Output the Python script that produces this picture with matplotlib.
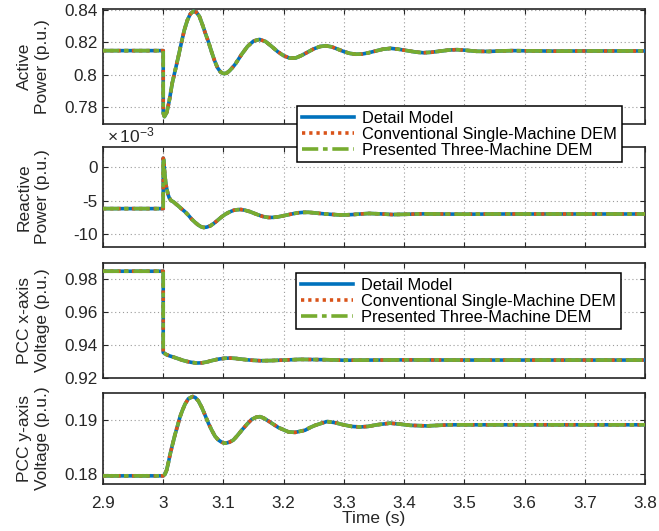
import matplotlib
matplotlib.use("Agg")
import matplotlib.pyplot as plt
from matplotlib.lines import Line2D
from matplotlib.ticker import FuncFormatter

plt.rcParams['font.family'] = ['Liberation Sans', 'DejaVu Sans']
plt.rcParams['mathtext.fontset'] = 'custom'
plt.rcParams['mathtext.rm'] = 'Liberation Sans'
plt.rcParams['mathtext.it'] = 'Liberation Sans:italic'
plt.rcParams['axes.unicode_minus'] = False

# ---- series labels / colours ----
series_names = ['Detail Model', 'Conventional Single-Machine DEM', 'Presented Three-Machine DEM']
series_colors = ['#0072BD', '#D95319', '#77AC30']

# ---- active power (p.u.) ----
t_p = [2.9, 3.0, 3.0, 3.002, 3.006, 3.01, 3.015, 3.02, 3.025, 3.03, 3.035, 3.04, 3.045,
       3.05, 3.055, 3.06, 3.065, 3.07, 3.075, 3.08, 3.085, 3.09, 3.095, 3.1, 3.105, 3.11,
       3.115, 3.12, 3.13, 3.14, 3.15, 3.16, 3.17, 3.18, 3.19, 3.2, 3.21, 3.22, 3.23, 3.24,
       3.25, 3.26, 3.27, 3.28, 3.29, 3.3, 3.31, 3.32, 3.33, 3.34, 3.355, 3.365, 3.378,
       3.39, 3.405, 3.42, 3.432, 3.445, 3.46, 3.475, 3.488, 3.5, 3.52, 3.54, 3.56, 3.58,
       3.6, 3.65, 3.7, 3.75, 3.8]
p_detail = [0.8149, 0.8149, 0.7765, 0.7743, 0.7770, 0.7840, 0.7950, 0.8030, 0.8110, 0.8195,
            0.8275, 0.8335, 0.8375, 0.8391, 0.8385, 0.8360, 0.8310, 0.8255, 0.8204, 0.8145,
            0.8090, 0.8045, 0.8018, 0.8008, 0.8010, 0.8025, 0.8045, 0.8068, 0.8125, 0.8175,
            0.8208, 0.8218, 0.8205, 0.8175, 0.8143, 0.8118, 0.8103, 0.8104, 0.8120, 0.8140,
            0.8160, 0.8174, 0.8179, 0.8172, 0.8158, 0.8143, 0.8132, 0.8127, 0.8128, 0.8135,
            0.8149, 0.8158, 0.8163, 0.8158, 0.8149, 0.8140, 0.8136, 0.8139, 0.8146, 0.8153,
            0.8155, 0.8152, 0.8145, 0.8144, 0.8147, 0.8149, 0.8148, 0.8146, 0.8147, 0.8147,
            0.8147]

# ---- reactive power (1e-3 p.u.) ----
t_q = [2.9, 3.0, 3.0, 3.001, 3.002, 3.003, 3.0045, 3.006, 3.008, 3.01, 3.013, 3.017, 3.021,
       3.025, 3.03, 3.036, 3.042, 3.047, 3.053, 3.058, 3.063, 3.067, 3.072, 3.078, 3.084,
       3.089, 3.096, 3.103, 3.11, 3.117, 3.123, 3.129, 3.136, 3.144, 3.151, 3.158, 3.166,
       3.175, 3.183, 3.191, 3.2, 3.208, 3.216, 3.224, 3.232, 3.241, 3.25, 3.258, 3.27, 3.29,
       3.3, 3.315, 3.33, 3.342, 3.36, 3.38, 3.4, 3.43, 3.46, 3.5, 3.55, 3.6, 3.7, 3.8]
q_detail = [-6.2, -6.2, 1.3, 1.0, -0.5, -1.5, -2.6, -3.3, -4.1, -4.6, -5.0, -5.2, -5.5,
            -5.8, -6.2, -6.65, -7.2, -7.74, -8.25, -8.62, -8.9, -9.0, -8.95, -8.77, -8.4,
            -8.03, -7.5, -7.04, -6.7, -6.45, -6.36, -6.33, -6.45, -6.65, -6.9, -7.14, -7.38,
            -7.52, -7.5, -7.42, -7.25, -7.1, -6.95, -6.82, -6.76, -6.75, -6.82, -6.9, -7.0,
            -7.12, -7.14, -7.08, -6.98, -6.92, -6.98, -7.08, -7.05, -6.98, -7.0, -7.03, -7.0,
            -7.0, -7.0, -7.0]

# ---- PCC x-axis voltage (p.u.) ----
t_vx = [2.9, 3.0, 3.0, 3.005, 3.01, 3.017, 3.025, 3.032, 3.039, 3.047, 3.056, 3.064, 3.072,
        3.08, 3.088, 3.094, 3.103, 3.111, 3.12, 3.133, 3.147, 3.161, 3.18, 3.1995, 3.227,
        3.25, 3.272, 3.3, 3.35, 3.4, 3.5, 3.6, 3.8]
vx_detail = [0.9846, 0.9846, 0.9352, 0.9340, 0.9332, 0.9324, 0.9314, 0.9305, 0.9298, 0.9292,
             0.9288, 0.9289, 0.9294, 0.9302, 0.9309, 0.9313, 0.9317, 0.9318, 0.9316, 0.9310,
             0.9305, 0.9302, 0.9303, 0.9306, 0.9310, 0.9309, 0.9308, 0.9305, 0.9306, 0.9307,
             0.9306, 0.9306, 0.9306]

# ---- PCC y-axis voltage (p.u.) ----
t_vy = [2.9, 3.0, 3.003, 3.0058, 3.0085, 3.0113, 3.0155, 3.0196, 3.024, 3.028, 3.032, 3.0362,
        3.0417, 3.049, 3.0535, 3.0583, 3.064, 3.0694, 3.075, 3.0806, 3.086, 3.0916, 3.097,
        3.1027, 3.11, 3.1165, 3.123, 3.1304, 3.139, 3.147, 3.1545, 3.1608, 3.1675, 3.1746,
        3.1912, 3.2078, 3.2189, 3.2355, 3.244, 3.2522, 3.266, 3.272, 3.285, 3.2992, 3.313,
        3.327, 3.34, 3.3547, 3.3767, 3.395, 3.41, 3.4377, 3.4764, 3.5, 3.6, 3.8]
vy_detail = [0.1797, 0.1797, 0.1800, 0.1808, 0.1821, 0.1836, 0.1855, 0.1873, 0.1890, 0.1906,
             0.1918, 0.1929, 0.1939, 0.1943, 0.1941, 0.1935, 0.1923, 0.1909, 0.1894, 0.1881,
             0.1870, 0.1863, 0.1859, 0.1857, 0.1859, 0.1863, 0.1871, 0.1881, 0.1892, 0.1901,
             0.1905, 0.1906, 0.1903, 0.1898, 0.1886, 0.1878, 0.1877, 0.1881, 0.1886, 0.1890,
             0.1895, 0.1897, 0.1895, 0.1891, 0.1888, 0.1887, 0.1888, 0.1891, 0.1894, 0.1892,
             0.1890, 0.1889, 0.1891, 0.1891, 0.1891, 0.1891]

x_ticks = [2.9, 3.0, 3.1, 3.2, 3.3, 3.4, 3.5, 3.6, 3.7, 3.8]
y_labels = ['Active\nPower (p.u.)', 'Reactive\nPower (p.u.)',
            'PCC x-axis\nVoltage (p.u.)', 'PCC y-axis\nVoltage (p.u.)']

TXT = '#262626'
LW = 2.6
styles = [
    dict(color=series_colors[0], lw=LW, ls='-', zorder=3),
    dict(color=series_colors[1], lw=LW, ls=(0, (0.9, 1.1)), zorder=4),
    dict(color=series_colors[2], lw=LW, ls=(0, (4.5, 1.3, 1.3, 1.3)), zorder=5),
]

fig = plt.figure(figsize=(6.59, 5.31), dpi=100)
left, width = 103 / 659, 542 / 659
H = 531.0
boxes = [(9, 124), (147, 247), (263, 377.5), (393.3, 484)]
ylims = [(0.7698, 0.8405), (-11.9, 2.95), (0.92, 0.9896), (0.1782, 0.1949)]
yticks = [[0.78, 0.80, 0.82, 0.84], [-10, -5, 0], [0.92, 0.94, 0.96, 0.98], [0.18, 0.19]]
data = [(t_p, p_detail), (t_q, q_detail), (t_vx, vx_detail), (t_vy, vy_detail)]

fmt = FuncFormatter(lambda v, pos: ('%g' % round(v, 6)))
axes = []
for i, (top, bot) in enumerate(boxes):
    ax = fig.add_axes([left, (H - bot) / H, width, (bot - top) / H])
    t, y = data[i]
    for st in styles:
        ax.plot(t, y, solid_capstyle='butt', dash_capstyle='butt', **st)
    ax.set_xlim(2.9, 3.8)
    ax.set_ylim(*ylims[i])
    ax.set_xticks(x_ticks)
    ax.set_yticks(yticks[i])
    ax.xaxis.set_major_formatter(fmt)
    ax.yaxis.set_major_formatter(fmt)
    ax.grid(True, color='#9a9a9a', lw=0.8, ls=(0, (1, 2.5)))
    ax.tick_params(direction='in', length=3.5, width=0.8, colors=TXT, labelsize=12.3,
                   top=True, right=True)
    ax.tick_params(axis='x', pad=8.5)
    ax.tick_params(axis='y', pad=4)
    for sp in ax.spines.values():
        sp.set_color(TXT)
        sp.set_linewidth(1.2)
    if i < 3:
        ax.tick_params(labelbottom=False)
    ax.set_ylabel(y_labels[i], fontsize=12.5, color=TXT, linespacing=1.3)
    ax.yaxis.set_label_coords(-0.097, 0.5)
    axes.append(ax)

axes[3].set_xlabel('Time (s)', fontsize=12.5, color=TXT, labelpad=0.5)
axes[1].text(0.008, 1.015, r'$\times\,10^{-3}$', transform=axes[1].transAxes,
             fontsize=12.5, color=TXT, ha='left', va='bottom')

handles = [Line2D([], [], **{k: v for k, v in st.items() if k != 'zorder'}) for st in styles]
for anchor in [(297 / 659, 1 - 106 / H), (296 / 659, 1 - 273 / H)]:
    leg = fig.legend(handles, series_names, loc='upper left', bbox_to_anchor=anchor,
                     fontsize=11.8, frameon=True, fancybox=False, framealpha=1,
                     edgecolor='black', borderpad=0.3, labelspacing=0.05,
                     handlelength=3.2, handletextpad=0.45, borderaxespad=0)
    leg.get_frame().set_linewidth(1.1)
    for txt in leg.get_texts():
        txt.set_color('black')

fig.savefig('out.png', dpi=100)
